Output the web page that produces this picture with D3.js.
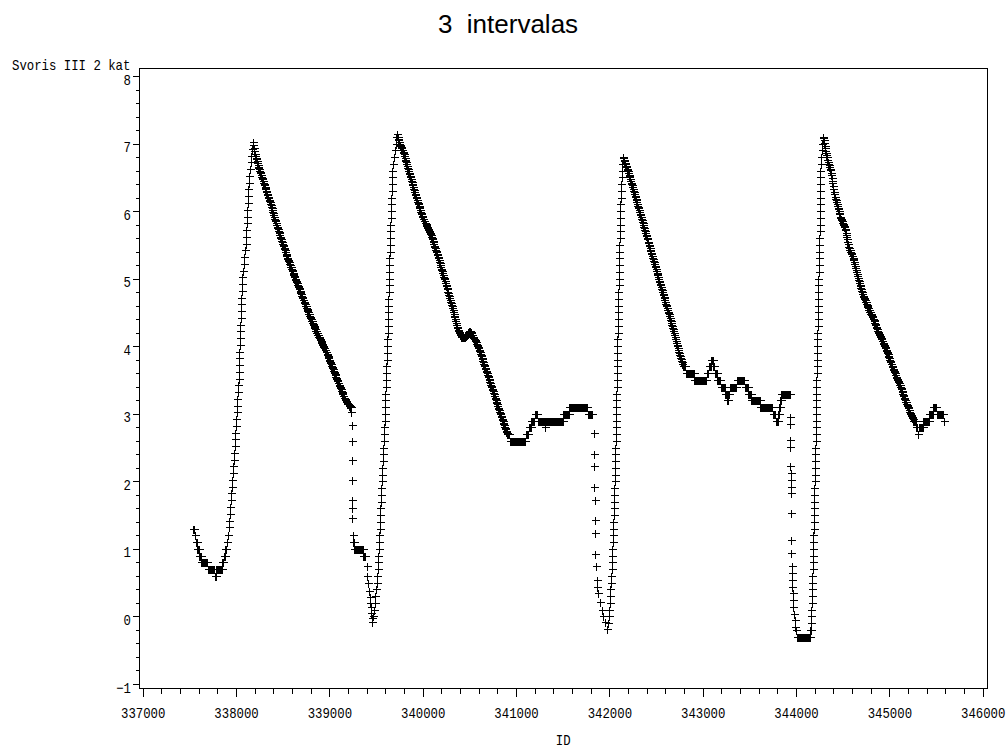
<!DOCTYPE html>
<html><head><meta charset="utf-8">
<script src="https://cdn.jsdelivr.net/npm/d3@7"></script>
<style>body{margin:0;background:#fff;}svg{display:block;}</style>
</head><body>
<svg id="chart" width="1007" height="749"></svg>
<script>
// ---- data ----
// Records are sampled every 5 IDs in the dense runs; sparse parts are [ID, value] pairs.
const sampleStep = 5;

const c1StartId = 337540;
const c1StartVals = [1.3,1.3,1.3,1.2,1.2,1.2,1.1,1.1,1.1,1.0,1.0,1.0,1.0,0.9,0.9,0.9,0.9,
0.8,0.8,0.8,0.8,0.8,0.8,0.8,0.8,0.8,0.8,0.8,0.8,0.8,0.8,
0.7,0.7,0.7,0.7,0.7,0.7,0.7,0.7,0.7,0.7,0.7,0.7,0.7,0.7,0.7,
0.6,0.6,0.6,
0.7,0.7,0.7,0.7,0.7,0.7,0.7,0.7,0.7,0.7,0.7,0.7,0.7,
0.8,0.8,0.8,0.8,0.9,0.9,0.9,1.0,1.0,1.0,1.1,1.1,1.2,1.2];
const c1Rise = [[337921,1.32],[337926,1.42],[337932,1.52],[337937,1.62],[337942,1.72],[337948,1.82],[337954,1.92],[337959,2.02],[337964,2.12],[337969,2.22],[337974,2.32],[337979,2.42],[337984,2.52],[337989,2.62],[337994,2.72],[337998,2.82],[338003,2.92],[338007,3.02],[338011,3.12],[338015,3.22],[338020,3.32],[338024,3.42],[338027,3.52],[338030,3.62],[338032,3.72],[338035,3.82],[338037,3.92],[338039,4.02],[338041,4.12],[338043,4.22],[338046,4.32],[338048,4.42],[338051,4.52],[338054,4.62],[338057,4.72],[338060,4.82],[338063,4.92],[338068,5.02],[338075,5.12],[338082,5.22],[338090,5.32],[338097,5.42],[338103,5.52],[338107,5.62],[338111,5.72],[338114,5.82],[338117,5.92],[338120,6.02],[338123,6.12],[338127,6.22],[338132,6.32],[338137,6.42],[338142,6.52],[338148,6.62],[338156,6.72],[338164,6.82],[338172,6.92],[338180,7.02]];
const c1DescId = 338185;
const c1DescVals = [6.98,6.94,6.89,6.85,
6.82,6.79,6.77,6.74,6.71,6.68,
6.66,6.64,6.62,6.60,
6.58,6.56,6.53,6.51,6.49,6.47,6.44,6.42,
6.40,6.38,6.36,6.34,6.32,6.30,6.28,6.26,6.24,6.21,6.19,6.17,6.15,6.13,6.11,
6.09,6.06,6.04,6.01,5.99,5.97,5.94,5.92,5.89,5.87,5.85,5.82,5.80,5.77,5.75,
5.73,5.71,5.69,5.67,5.65,5.62,5.60,5.58,5.56,5.54,5.52,5.50,5.48,5.46,5.44,5.42,5.40,5.37,5.35,5.33,5.31,
5.29,5.27,5.26,5.24,5.22,5.20,5.18,5.17,5.15,5.13,5.11,5.09,5.07,5.06,5.04,5.02,5.00,4.98,4.97,4.95,4.93,
4.91,4.89,4.88,4.86,4.84,4.82,4.80,4.79,4.77,4.75,4.73,4.71,4.69,4.68,4.66,4.64,4.62,4.60,4.59,4.57,4.55,
4.53,4.52,4.50,4.48,4.47,4.45,4.43,4.42,4.40,4.38,4.37,4.35,4.33,4.32,4.30,4.28,4.27,4.25,4.23,4.22,4.20,
4.19,4.17,4.16,4.14,4.13,4.12,4.10,4.09,4.08,4.06,4.05,4.03,4.02,4.01,3.99,3.98,3.97,3.95,3.94,3.92,3.91,
3.89,3.87,3.86,3.84,3.82,3.80,3.78,3.77,3.75,3.73,3.71,3.69,3.68,3.66,3.64,3.62,3.61,3.59,3.57,3.55,3.53,3.52,3.50,3.48,
3.46,3.45,3.43,3.41,3.39,3.38,3.36,3.34,3.32,3.31,3.29,3.27,
3.26,3.24,3.23,3.22,3.20,3.19,3.18,3.16,3.15,
3.14,3.14,3.13,3.12,3.12,3.11,3.10,3.10];
const c1Fall = [[339236,3.03],[339238,2.83],[339240,2.59],[339242,2.31],[339243,2.02],[339245,1.72],[339246,1.60],[339247,1.45],[339249,1.20]];
const c1FlatId = 339250;
const c1FlatVals = [1.1,1.1,1.1,1.0,1.0,1.0,1.0,1.0,1.0,1.0,1.0,1.0,1.0,1.0,1.0,1.0,1.0,1.0,1.0,1.0,1.0,1.0,0.9,0.9,0.9,0.9,0.9,0.9];
const c1Drop = [[339400,0.74],[339408,0.60],[339417,0.49],[339425,0.38],[339430,0.29],[339439,0.20],[339444,0.14],[339451,0.05],[339454,-0.03],[339459,-0.08]];

const c2Rise = [[339466,0.00],[339475,0.10],[339485,0.20],[339494,0.30],[339500,0.40],[339506,0.50],[339511,0.60],[339516,0.70],[339520,0.80],[339524,0.90],[339527,1.00],[339531,1.10],[339535,1.20],[339538,1.30],[339541,1.40],[339544,1.50],[339547,1.60],[339551,1.70],[339554,1.80],[339558,1.90],[339561,2.00],[339564,2.10],[339568,2.20],[339571,2.30],[339575,2.40],[339578,2.50],[339581,2.60],[339585,2.70],[339588,2.80],[339591,2.90],[339593,3.00],[339596,3.10],[339598,3.20],[339601,3.30],[339603,3.40],[339606,3.50],[339608,3.60],[339611,3.70],[339614,3.80],[339617,3.90],[339619,4.00],[339621,4.10],[339623,4.20],[339625,4.30],[339627,4.40],[339629,4.50],[339631,4.60],[339633,4.70],[339635,4.80],[339636,4.90],[339638,5.00],[339640,5.10],[339642,5.20],[339644,5.30],[339646,5.40],[339648,5.50],[339650,5.60],[339652,5.70],[339654,5.80],[339656,5.90],[339658,6.00],[339661,6.10],[339664,6.20],[339667,6.30],[339670,6.40],[339673,6.50],[339676,6.60],[339684,6.70],[339693,6.80],[339702,6.90],[339710,7.00],[339718,7.10],[339722,7.14]];
const c2DescId = 339730;
const c2DescVals = [7.10,7.07,7.05,7.02,
7.00,6.98,6.97,6.95,6.93,6.91,6.90,6.88,6.86,
6.84,6.81,6.79,6.76,6.74,6.72,6.69,6.67,6.64,6.62,6.60,6.57,6.55,6.52,6.50,
6.48,6.45,6.43,6.40,6.38,6.36,6.33,6.31,6.28,6.26,6.24,6.21,6.19,6.16,6.14,
6.12,6.10,6.08,6.06,6.04,6.02,5.99,5.97,5.95,5.93,5.91,5.89,
5.88,5.86,5.85,5.83,5.82,5.81,5.79,5.78,5.76,5.75,5.74,5.72,5.71,5.69,5.68,
5.66,5.64,5.62,5.60,5.58,5.56,5.54,5.51,5.49,5.47,5.45,5.43,5.41,5.39,5.37,
5.35,5.32,5.30,5.27,5.25,5.23,5.20,5.18,5.15,5.13,5.11,5.08,5.06,5.03,5.01,
4.99,4.96,4.94,4.91,4.89,4.86,4.84,4.81,4.79,4.76,4.74,4.71,4.69,4.66,4.64,
4.61,4.59,4.56,4.53,4.51,4.48,4.45,4.43,4.40,4.37,4.35,4.32,4.29,4.27,4.24,
4.22,4.21,4.19,4.18,4.16,4.15,
4.15,4.14,4.14,4.14,4.13,4.13,
4.13,4.14,4.14,4.14,4.15,4.15,
4.16,4.17,4.18,4.20,4.21,4.22,
4.22,4.23,4.23,
4.21,4.19,4.17,4.16,4.14,4.12,
4.11,4.10,4.09,4.08,4.07,4.06,
4.04,4.02,4.00,3.99,3.97,3.95,
3.93,3.91,3.89,3.87,3.85,3.83,3.81,3.78,3.76,3.74,3.72,3.70,3.68,3.66,3.64,
3.62,3.60,3.58,3.56,3.54,3.52,3.50,3.47,3.45,3.43,3.41,3.39,3.37,3.35,3.33,
3.31,3.29,3.27,3.24,3.22,3.20,3.18,3.16,3.14,3.12,3.09,3.07,3.05,3.03,3.01,
2.99,2.97,2.95,2.93,2.91,2.89,2.87,2.85,2.83,2.81,2.79,2.77,2.75,2.73,2.71,
2.7,2.7,2.7,2.7,2.7,
2.6,2.6,2.6,2.6,2.6,2.6,2.6,2.6,2.6,2.6,
2.6,2.6,2.6,2.6,2.6,2.6,2.6,2.6,2.6,2.6,
2.6,2.6,2.6,2.6,2.6,2.6,2.6,2.6,2.6,2.6,
2.6,2.6,2.6,2.6,2.6,
2.7,2.7,2.7,2.7,2.7,2.7,
2.8,2.8,2.8,2.8,2.8,2.8,
2.9,2.9,2.9,2.9,2.9,2.9,2.9,
3.0,3.0,3.0,3.0,3.0,3.0,
2.9,2.9,2.9,2.9,2.9,2.9,2.9,2.9,2.9,2.9,2.9,2.9,2.9,2.9,2.9,
2.8,
2.9,2.9,2.9,2.9,2.9,2.9,2.9,2.9,2.9,2.9,
2.9,2.9,2.9,2.9,2.9,2.9,2.9,2.9,2.9,2.9,
2.9,2.9,2.9,2.9,2.9,2.9,2.9,2.9,2.9,2.9,
2.9,2.9,2.9,2.9,2.9,2.9,2.9,2.9,2.9,
3.0,3.0,3.0,3.0,3.0,3.0,3.0,3.0,3.0,3.0,3.0,3.0,3.0,
3.1,3.1,3.1,3.1,3.1,3.1,3.1,3.1,3.1,3.1,
3.1,3.1,3.1,3.1,3.1,3.1,3.1,3.1,3.1,3.1,
3.1,3.1,3.1,3.1,3.1,3.1,3.1,3.1,3.1,3.1,
3.1,3.1,3.1,3.1,3.1,3.1,3.1,3.1,3.1,3.1,
3.0,3.0,3.0,3.0,3.0,3.0,3.0,3.0,3.0];
const c2Fall = [[341830,2.71],[341833,2.41],[341836,2.22],[341839,1.92],[341842,1.72],[341845,1.43],[341848,1.23],[341851,0.93],[341855,0.74],[341864,0.54],[341872,0.44],[341883,0.34],[341899,0.22],[341918,0.09],[341937,0.00],[341954,-0.08],[341971,-0.18]];

const c3Rise = [[341985,-0.10],[341995,0.00],[342001,0.10],[342006,0.20],[342009,0.30],[342012,0.40],[342016,0.50],[342019,0.60],[342023,0.70],[342026,0.80],[342030,0.90],[342033,1.00],[342037,1.10],[342039,1.20],[342041,1.30],[342043,1.40],[342045,1.50],[342047,1.60],[342049,1.70],[342051,1.80],[342053,1.90],[342055,2.00],[342057,2.10],[342059,2.20],[342061,2.30],[342063,2.40],[342064,2.50],[342066,2.60],[342067,2.70],[342068,2.80],[342070,2.90],[342071,3.00],[342072,3.10],[342074,3.20],[342075,3.30],[342077,3.40],[342078,3.50],[342080,3.60],[342082,3.70],[342083,3.80],[342084,3.90],[342086,4.00],[342087,4.10],[342088,4.20],[342089,4.30],[342091,4.40],[342092,4.50],[342094,4.60],[342095,4.70],[342097,4.80],[342098,4.90],[342100,5.00],[342102,5.10],[342103,5.20],[342105,5.30],[342107,5.40],[342108,5.50],[342110,5.60],[342112,5.70],[342113,5.80],[342115,5.90],[342116,6.00],[342117,6.10],[342121,6.20],[342125,6.30],[342128,6.40],[342132,6.50],[342136,6.60],[342140,6.70],[342144,6.80]];
const c3DescId = 342150;
const c3DescVals = [6.78,
6.76,6.74,6.71,6.69,6.67,6.65,6.63,6.61,6.59,6.56,6.54,6.52,
6.50,6.47,6.45,6.42,6.40,6.38,6.35,6.33,6.30,6.28,6.25,6.23,
6.21,6.18,6.16,6.13,6.11,6.08,6.06,6.04,6.01,5.99,5.96,5.94,
5.92,5.89,5.87,5.84,5.82,5.79,5.77,5.75,5.72,5.70,5.67,5.65,
5.63,5.60,5.58,5.55,5.53,5.50,5.48,5.46,5.43,5.41,5.38,5.36,
5.34,5.31,5.29,5.26,5.24,5.21,5.19,5.17,5.14,5.12,5.09,5.07,
5.05,5.02,5.00,4.97,4.95,4.92,4.90,4.88,4.85,4.83,4.80,4.78,
4.76,4.73,4.71,4.68,4.66,4.63,4.61,4.59,4.56,4.54,4.51,4.49,
4.47,4.44,4.42,4.39,4.37,4.34,4.32,4.30,4.27,4.25,4.22,4.20,
4.17,4.14,4.11,4.08,4.05,4.02,
4.00,3.97,3.95,3.92,3.90,3.87,
3.85,3.83,3.81,3.78,3.76,3.74,
3.7,3.7,3.7,3.7,3.7,3.7,3.7,
3.6,3.6,3.6,3.6,3.6,3.6,3.6,3.6,3.6,3.6,3.6,3.6,3.6,3.6,3.6,3.6,3.6,3.6,
3.5,3.5,3.5,3.5,3.5,3.5,3.5,3.5,3.5,3.5,
3.5,3.5,3.5,3.5,3.5,3.5,3.5,3.5,3.5,3.5,
3.5,3.5,3.5,3.5,3.5,3.5,3.5,
3.6,3.6,3.6,3.6,
3.7,3.7,3.7,3.7,3.7,
3.8,3.8,3.8,3.8,
3.7,3.7,3.7,3.7,
3.6,3.6,3.6,3.6,3.6,
3.5,3.5,3.5,3.5,3.5,3.5,3.5,3.5,
3.4,3.4,3.4,3.4,3.4,3.4,3.4,3.4,3.4,
3.3,3.3,3.3,3.3,
3.2,3.2,3.2,
3.3,3.3,3.3,
3.4,3.4,3.4,3.4,3.4,3.4,3.4,3.4,3.4,3.4,3.4,3.4,3.4,3.4,3.4,
3.5,3.5,3.5,3.5,3.5,3.5,3.5,3.5,3.5,3.5,3.5,3.5,3.5,3.5,3.5,3.5,3.5,
3.4,3.4,3.4,3.4,3.4,3.4,3.4,
3.3,3.3,3.3,3.3,3.3,3.3,3.3,
3.2,3.2,3.2,3.2,3.2,3.2,3.2,3.2,3.2,3.2,3.2,3.2,3.2,3.2,3.2,3.2,3.2,3.2,3.2,
3.1,3.1,3.1,3.1,3.1,3.1,3.1,3.1,3.1,3.1,
3.1,3.1,3.1,3.1,3.1,3.1,3.1,3.1,3.1,3.1,
3.1,3.1,3.1,3.1,3.1,3.1,3.1,
3.0,3.0,3.0,3.0,3.0,3.0,
2.9,2.9,2.9,2.9,2.9,2.9,
3.0,3.0,3.1,3.1,3.2,3.2,
3.3,3.3,3.3,3.3,3.3,3.3,3.3,3.3,3.3,3.3,3.3,3.3,3.3,3.3,3.3,3.3,3.3,3.3,3.3];
const c3Fall = [[343936,2.95],[343937,2.85],[343938,2.61],[343939,2.51],[343940,2.22],[343941,2.12],[343942,2.02],[343943,1.92],[343944,1.82],[343946,1.53],[343948,1.13],[343950,0.94],[343953,0.74],[343956,0.64],[343959,0.54],[343962,0.44],[343965,0.34],[343968,0.24],[343972,0.14],[343978,0.04],[343985,-0.06],[343992,-0.15]];
const c3BottomId = 343995;
const c3BottomVals = [-0.2,-0.2,
-0.3,-0.3,-0.3,-0.3,-0.3,-0.3,-0.3,-0.3,-0.3,-0.3,
-0.3,-0.3,-0.3,-0.3,-0.3,-0.3,-0.3,-0.3,-0.3,-0.3,
-0.3,-0.3,-0.3,-0.3,-0.3,-0.3,-0.3,-0.3,-0.3,
-0.2];

const c4Rise = [[344157,-0.20],[344161,-0.10],[344163,0.00],[344165,0.10],[344167,0.20],[344169,0.30],[344171,0.40],[344173,0.50],[344175,0.60],[344177,0.70],[344179,0.80],[344181,0.90],[344183,1.00],[344185,1.10],[344187,1.20],[344189,1.30],[344191,1.40],[344192,1.50],[344193,1.60],[344195,1.70],[344196,1.80],[344197,1.90],[344199,2.00],[344200,2.10],[344202,2.20],[344203,2.30],[344205,2.40],[344207,2.50],[344209,2.60],[344211,2.70],[344213,2.80],[344214,2.90],[344215,3.00],[344215,3.10],[344216,3.20],[344217,3.30],[344218,3.40],[344219,3.50],[344221,3.60],[344222,3.70],[344223,3.80],[344225,3.90],[344226,4.00],[344227,4.10],[344228,4.20],[344230,4.30],[344231,4.40],[344233,4.50],[344234,4.60],[344235,4.70],[344237,4.80],[344238,4.90],[344240,5.00],[344242,5.10],[344244,5.20],[344246,5.30],[344248,5.40],[344250,5.50],[344251,5.60],[344252,5.70],[344252,5.80],[344253,5.90],[344254,6.00],[344255,6.10],[344256,6.20],[344257,6.30],[344258,6.40],[344260,6.50],[344262,6.60],[344265,6.70],[344270,6.80],[344275,6.90],[344280,7.00],[344286,7.10]];
const c4DescId = 344290;
const c4DescVals = [7.08,
7.05,7.01,6.97,6.93,6.89,6.86,6.83,6.80,6.76,6.72,
6.70,6.68,6.65,6.63,6.61,
6.57,6.53,6.49,6.45,6.41,6.37,6.33,6.29,6.25,6.21,
6.18,6.16,6.13,6.11,6.08,6.05,6.03,6.00,5.97,5.95,5.92,
5.90,5.88,5.87,5.85,5.83,5.81,5.79,5.78,5.76,5.74,5.72,
5.68,5.65,5.61,5.58,5.54,5.51,5.47,
5.45,5.43,5.42,5.40,5.38,5.36,5.34,5.33,5.31,5.29,5.28,
5.25,5.22,5.19,5.16,5.13,5.10,5.07,5.04,5.01,4.98,
4.96,4.93,4.91,4.89,4.86,4.84,4.82,4.80,4.77,4.75,4.73,
4.71,4.70,4.68,4.66,4.65,4.63,4.61,4.59,4.58,4.56,4.54,
4.53,4.51,4.50,4.48,4.47,4.46,4.44,4.43,4.41,4.40,4.39,
4.37,4.35,4.33,4.31,4.29,4.27,4.25,4.23,4.21,4.19,
4.18,4.16,4.15,4.14,4.12,4.11,4.10,4.08,4.07,4.05,4.04,
4.02,4.00,3.99,3.97,3.95,3.93,3.91,3.90,3.88,3.86,3.84,
3.82,3.80,3.78,3.76,3.74,3.73,3.71,3.69,3.67,3.65,
3.63,3.62,3.60,3.58,3.57,3.55,3.53,3.52,3.50,3.48,3.47,3.45,3.43,3.42,3.40,
3.38,3.36,3.34,3.32,3.30,3.28,3.26,3.24,3.22,3.20,
3.18,3.17,3.15,3.13,3.12,3.10,3.08,3.06,3.05,3.03,3.01,
3.00,2.98,2.97,2.95,2.94,2.92,
2.9,2.9,2.9,2.9,2.9,2.9,
2.8,2.8,2.8,2.8,
2.7,2.7,
2.8,2.8,2.8,2.8,2.8,2.8,2.8,2.8,2.8,2.8,
2.9,2.9,2.9,2.9,2.9,2.9,2.9,2.9,2.9,2.9,2.9,2.9,
3.0,3.0,3.0,3.0,3.0,3.0,3.0,3.0,3.0,
3.1,3.1,3.1,3.1,3.1,3.1,3.1,
3.0,3.0,3.0,3.0,3.0,3.0,3.0,3.0,3.0,3.0,3.0,3.0,3.0,3.0,3.0,
2.9];

const xTickValues = [337000,338000,339000,340000,341000,342000,343000,344000,345000,346000];
const yTickValues = [-1,0,1,2,3,4,5,6,7,8];
const titleText = "3  intervalas";
const yLabelText = "Svoris III 2 kat";
const xLabelText = "ID";

// ---- assemble records ----
const sampled = (startId, vals) => vals.map((v, i) => [startId + i * sampleStep, v]);
const allPoints = [].concat(
  sampled(c1StartId, c1StartVals), c1Rise, sampled(c1DescId, c1DescVals), c1Fall, sampled(c1FlatId, c1FlatVals), c1Drop,
  c2Rise, sampled(c2DescId, c2DescVals), c2Fall,
  c3Rise, sampled(c3DescId, c3DescVals), c3Fall, sampled(c3BottomId, c3BottomVals),
  c4Rise, sampled(c4DescId, c4DescVals)
);

// ---- drawing ----
const svg = d3.select("#chart");
const L = 139.5, R = 987, T = 68.5, B = 688.5;
const x = d3.scaleLinear().domain([337000, 346000]).range([142.7, 982.7]);
const y = d3.scaleLinear().domain([-1, 8]).range([684, 76]);
const monoFont = "'Liberation Mono', 'DejaVu Sans Mono', monospace";
const charW = 7.4;

svg.append("rect").attr("width", 1007).attr("height", 749).attr("fill", "#fff");

svg.append("text").attr("x", 508).attr("y", 33).attr("text-anchor", "middle")
  .style("white-space", "pre")
  .attr("font-family", "'Liberation Sans', Arial, sans-serif").attr("font-size", 26)
  .attr("fill", "#000").text(titleText);

svg.append("rect").attr("x", L).attr("y", T).attr("width", R - L).attr("height", B - T)
  .attr("fill", "none").attr("stroke", "#000").attr("stroke-width", 1).attr("shape-rendering", "crispEdges");

const xMinor = d3.range(337000, 346001, 200).filter(v => v % 1000 !== 0);
const gxm = svg.append("g").attr("transform", `translate(0,${B})`)
  .call(d3.axisBottom(x).tickValues(xMinor).tickSize(5).tickSizeOuter(0).tickFormat(""));
gxm.select(".domain").remove();
const gx = svg.append("g").attr("transform", `translate(0,${B})`)
  .call(d3.axisBottom(x).tickValues(xTickValues).tickSize(8).tickSizeOuter(0).tickFormat(d3.format("d")));
gx.select(".domain").remove();
gx.selectAll("text").attr("y", 29.5).attr("dy", 0)
  .attr("font-family", monoFont).attr("font-size", 15).attr("fill", "#000")
  .attr("textLength", function(){ return this.textContent.length * charW; })
  .attr("lengthAdjust", "spacingAndGlyphs");

const yMinor = d3.range(-1, 8.001, 0.2).filter(v => Math.abs(v - Math.round(v)) > 0.01);
const gym = svg.append("g").attr("transform", `translate(${L},0)`)
  .call(d3.axisLeft(y).tickValues(yMinor).tickSize(4).tickSizeOuter(0).tickFormat(""));
gym.select(".domain").remove();
const gy = svg.append("g").attr("transform", `translate(${L},0)`)
  .call(d3.axisLeft(y).tickValues(yTickValues).tickSize(7).tickSizeOuter(0).tickFormat(d => d < 0 ? "\u2212" + Math.abs(d) : String(d)));
gy.select(".domain").remove();
gy.selectAll("text").attr("x", -8.5).attr("dy", 0).attr("y", 8)
  .attr("font-family", monoFont).attr("font-size", 15).attr("fill", "#000")
  .attr("textLength", function(){ return this.textContent.length * charW; })
  .attr("lengthAdjust", "spacingAndGlyphs");
svg.selectAll(".tick line").attr("stroke", "#000").attr("shape-rendering", "crispEdges");

svg.append("text").attr("x", 12).attr("y", 70)
  .attr("font-family", monoFont).attr("font-size", 15).attr("fill", "#000")
  .attr("textLength", yLabelText.length * charW).attr("lengthAdjust", "spacingAndGlyphs")
  .text(yLabelText);
svg.append("text").attr("x", (L + R) / 2).attr("y", 744.5).attr("text-anchor", "middle")
  .attr("font-family", monoFont).attr("font-size", 14).attr("fill", "#000")
  .attr("textLength", xLabelText.length * charW).attr("lengthAdjust", "spacingAndGlyphs")
  .text(xLabelText);

svg.append("g").selectAll("path").data(allPoints).join("path")
  .attr("transform", d => `translate(${Math.round(x(d[0])) + 0.5},${Math.round(y(d[1])) + 0.5})`)
  .attr("d", "M-4,0H4M0,-4V4")
  .attr("fill", "none").attr("stroke", "#000").attr("stroke-width", 1)
  .attr("shape-rendering", "crispEdges");
</script>
</body></html>
